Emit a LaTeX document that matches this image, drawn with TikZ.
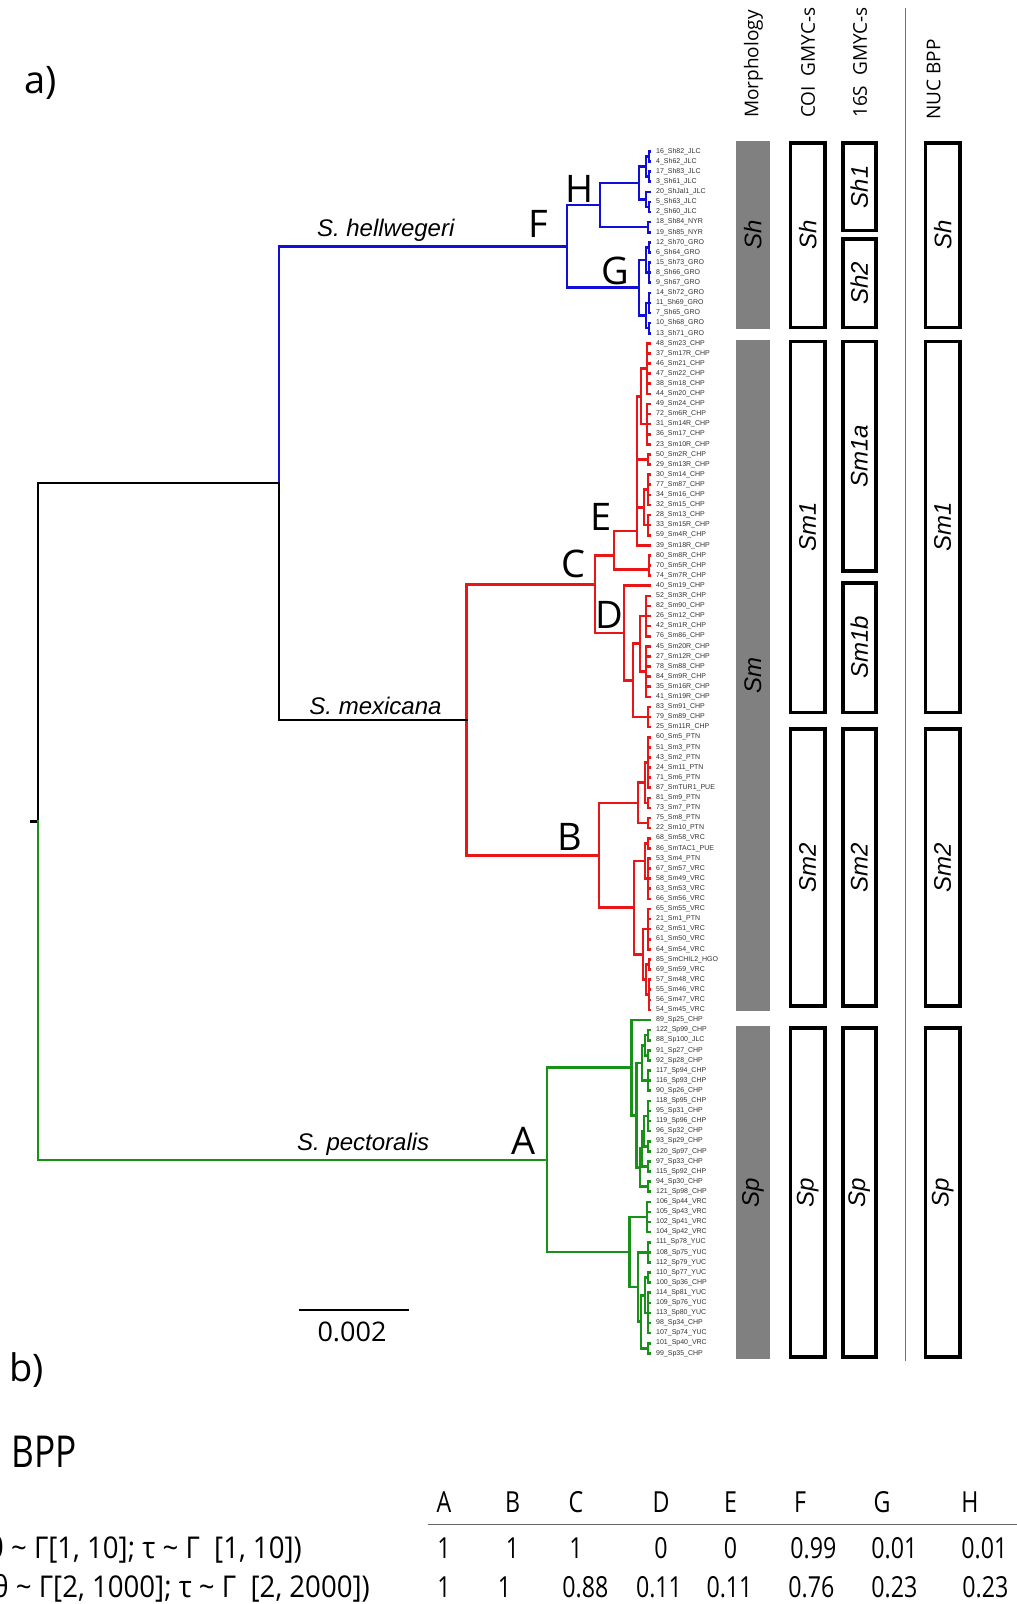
\documentclass[tikz,border=0pt]{standalone}
\usepackage{fontspec}
\setmainfont{Open Sans}
\newfontfamily\arialf{Liberation Sans}
\newfontfamily\condf[FakeStretch=0.8]{Open Sans}
\newfontfamily\condg[FakeStretch=0.92]{Open Sans}
\newcommand\fsz[1]{\fontsize{#1}{#1}\selectfont}
\definecolor{tblue}{RGB}{15,15,215}
\definecolor{tred}{RGB}{232,22,22}
\definecolor{tgreen}{RGB}{25,145,25}
\definecolor{morphgray}{RGB}{128,128,128}
\newcommand\brV[3]{\draw (#1,{ty(#2)}) -- (#1,{ty(#3)});}
\newcommand\brH[3]{\draw (#1,{ty(#3)}) -- (#2,{ty(#3)});}
\newcommand\brT[3]{\brV{#1}{#2}{#3}\foreach \k in {#2,...,#3}{\brH{#1}{650}{\k}}}
\tikzset{
  branch/.style={line width=2.6, line cap=rect},
  tiplab/.style={anchor=west, inner sep=0, font=\arialf\fsz{7}, text=black!80},
  cladelet/.style={inner sep=0, font=\fsz{38}},
  species/.style={inner sep=0, font=\arialf\itshape\fsz{24}},
  colhead/.style={rotate=90, anchor=west, inner sep=0, font=\fsz{19}},
  morphbox/.style={fill=morphgray, draw=none, rotate=90, inner sep=0, font=\arialf\itshape\fsz{24}},
  gbox/.style={draw=black, line width=3.6, fill=white, rotate=90, inner sep=0, font=\arialf\itshape\fsz{24}},
  tabc/.style={anchor=base, inner sep=0, font=\condf\fsz{29}},
}
\begin{document}
\begin{tikzpicture}[x=1pt,y=-1pt, declare function={ty(\i)=151.4+(\i-1)*10.1;}]
\useasboundingbox (0,0) rectangle (1017,1604);
\fill[white] (0,0) rectangle (1017,1604);

% ---------- tree ----------
\begin{scope}[branch, tblue]
\brT{649}{1}{2}\brT{649}{3}{4}\brV{646}{1.5}{3.5}\brH{646}{649}{1.5}\brH{646}{649}{3.5}
\brH{646}{650}{5}\brT{649}{6}{7}\brV{646}{5}{6.5}\brH{646}{649}{6.5}
\brV{639}{2.5}{5.75}\brH{639}{646}{2.5}\brH{639}{646}{5.75}
\brT{648}{8}{9}
\brV{600}{4.125}{8.5}\brH{600}{639}{4.125}\brH{600}{648}{8.5}
\brT{649}{10}{11}\brT{649}{12}{14}\brV{646}{10.5}{13}\brH{646}{649}{10.5}\brH{646}{649}{13}
\brT{649}{15}{17}\brT{649}{18}{19}\brV{646}{16}{18.5}\brH{646}{649}{16}\brH{646}{649}{18.5}
\brV{639}{11.75}{17.25}\brH{639}{646}{11.75}\brH{639}{646}{17.25}
\brV{567}{6.3125}{14.5}\brH{567}{600}{6.3125}\brH{567}{639}{14.5}
\brH{279}{567}{10.40625}
\brV{279}{10.40625}{33.92}
\end{scope}

\begin{scope}[branch, tred]
\brT{647}{20}{25}\brT{647}{26}{30}\brV{641}{22.5}{28}\brH{641}{647}{22.5}\brH{641}{647}{28}
\brT{648}{31}{32}
\brT{648}{33}{36}\brT{648}{37}{39}\brV{644}{34.5}{38}\brH{644}{648}{34.5}\brH{644}{648}{38}
\brV{637}{25.25}{40}\brH{637}{641}{25.25}\brH{637}{648}{31.5}\brH{637}{644}{36.25}\brH{637}{650}{40}
\brT{649}{41}{43}
\brV{614}{38.6}{42.4}\brH{614}{637}{38.6}\brH{614}{649}{42.4}
\brH{624}{650}{44}
\brT{646}{45}{49}\brT{646}{50}{55}\brV{640}{47}{52.5}\brH{640}{646}{47}\brH{640}{646}{52.5}
\brT{648}{56}{58}
\brV{633}{49.75}{57}\brH{633}{640}{49.75}\brH{633}{648}{57}
\brV{624}{44}{53.375}\brH{624}{633}{53.375}
\brV{595}{41}{48.6875}\brH{595}{614}{41}\brH{595}{624}{48.6875}
\brT{648}{59}{64}\brT{648}{65}{66}\brV{645}{61.5}{65.5}\brH{645}{648}{61.5}\brH{645}{648}{65.5}
\brT{648}{67}{68}
\brV{638}{63.5}{67.5}\brH{638}{645}{63.5}\brH{638}{648}{67.5}
\brT{648}{69}{70}\brT{648}{71}{75}\brV{645}{69.5}{73}\brH{645}{648}{69.5}\brH{645}{648}{73}
\brT{648}{76}{80}\brT{649}{81}{82}\brT{649}{83}{86}\brV{646}{81.5}{84.5}\brH{646}{649}{81.5}\brH{646}{649}{84.5}
\brV{643}{78}{83}\brH{643}{648}{78}\brH{643}{646}{83}
\brV{634}{71.25}{80.5}\brH{634}{645}{71.25}\brH{634}{643}{80.5}
\brV{599}{65.5}{75.875}\brH{599}{638}{65.5}\brH{599}{634}{75.875}
\brV{466.5}{43.9}{70.6875}\brH{466.5}{595}{43.9}\brH{466.5}{599}{70.6875}
\end{scope}

\begin{scope}[branch, black]
\brH{279}{466.5}{57.3}
\brV{279}{33.85}{57.3}
\brH{38}{279}{33.85}
\brV{38}{33.85}{67.35}
\brH{31.7}{38}{67.35}
\end{scope}

\begin{scope}[branch, tgreen]
\brH{631.7}{650}{87}
\brT{648}{88}{89}\brT{648}{90}{91}\brV{645}{88.5}{90.5}\brH{645}{648}{88.5}\brH{645}{648}{90.5}
\brT{648}{92}{94}\brV{642}{89.5}{93}\brH{642}{645}{89.5}\brH{642}{648}{93}
\brT{648}{95}{98}\brT{648}{99}{100}\brV{644}{96.5}{99.5}\brH{644}{648}{96.5}\brH{644}{648}{99.5}
\brT{648}{101}{102}\brV{642}{98}{101.5}\brH{642}{644}{98}\brH{642}{648}{101.5}
\brT{648}{103}{104}\brV{640}{99.75}{103.5}\brH{640}{642}{99.75}\brH{640}{648}{103.5}
\brV{636.7}{91.25}{101.625}\brH{636.7}{642}{91.25}\brH{636.7}{640}{101.625}
\brV{631.7}{87}{96.4375}\brH{631.7}{636.7}{96.4375}
\brT{647}{105}{108}\brT{648}{109}{111}
\brT{648}{112}{113}\brT{648}{114}{118}\brV{645}{112.5}{116}\brH{645}{648}{112.5}\brH{645}{648}{116}
\brT{648}{119}{120}\brV{641}{114.25}{119.5}\brH{641}{645}{114.25}\brH{641}{648}{119.5}
\brV{638}{110}{116.875}\brH{638}{648}{110}\brH{638}{641}{116.875}
\brV{629.3}{106.5}{113.44}\brH{629.3}{647}{106.5}\brH{629.3}{638}{113.44}
\brV{547}{91.72}{109.97}\brH{547}{631.7}{91.72}\brH{547}{629.3}{109.97}
\brH{38}{547}{100.84}
\brV{38}{67.35}{100.84}
\end{scope}

% ---------- tip labels ----------
\foreach \lab [count=\i] in {
16\_Sh82\_JLC,4\_Sh62\_JLC,17\_Sh83\_JLC,3\_Sh61\_JLC,20\_ShJal1\_JLC,5\_Sh63\_JLC,2\_Sh60\_JLC,
18\_Sh84\_NYR,19\_Sh85\_NYR,12\_Sh70\_GRO,6\_Sh64\_GRO,15\_Sh73\_GRO,8\_Sh66\_GRO,9\_Sh67\_GRO,
14\_Sh72\_GRO,11\_Sh69\_GRO,7\_Sh65\_GRO,10\_Sh68\_GRO,13\_Sh71\_GRO,
48\_Sm23\_CHP,37\_Sm17R\_CHP,46\_Sm21\_CHP,47\_Sm22\_CHP,38\_Sm18\_CHP,44\_Sm20\_CHP,49\_Sm24\_CHP,
72\_Sm6R\_CHP,31\_Sm14R\_CHP,36\_Sm17\_CHP,23\_Sm10R\_CHP,50\_Sm2R\_CHP,29\_Sm13R\_CHP,30\_Sm14\_CHP,
77\_Sm87\_CHP,34\_Sm16\_CHP,32\_Sm15\_CHP,28\_Sm13\_CHP,33\_Sm15R\_CHP,59\_Sm4R\_CHP,39\_Sm18R\_CHP,
80\_Sm8R\_CHP,70\_Sm5R\_CHP,74\_Sm7R\_CHP,40\_Sm19\_CHP,52\_Sm3R\_CHP,82\_Sm90\_CHP,26\_Sm12\_CHP,
42\_Sm1R\_CHP,76\_Sm86\_CHP,45\_Sm20R\_CHP,27\_Sm12R\_CHP,78\_Sm88\_CHP,84\_Sm9R\_CHP,35\_Sm16R\_CHP,
41\_Sm19R\_CHP,83\_Sm91\_CHP,79\_Sm89\_CHP,25\_Sm11R\_CHP,60\_Sm5\_PTN,51\_Sm3\_PTN,43\_Sm2\_PTN,
24\_Sm11\_PTN,71\_Sm6\_PTN,87\_SmTUR1\_PUE,81\_Sm9\_PTN,73\_Sm7\_PTN,75\_Sm8\_PTN,22\_Sm10\_PTN,
68\_Sm58\_VRC,86\_SmTAC1\_PUE,53\_Sm4\_PTN,67\_Sm57\_VRC,58\_Sm49\_VRC,63\_Sm53\_VRC,66\_Sm56\_VRC,
65\_Sm55\_VRC,21\_Sm1\_PTN,62\_Sm51\_VRC,61\_Sm50\_VRC,64\_Sm54\_VRC,85\_SmCHIL2\_HGO,69\_Sm59\_VRC,
57\_Sm48\_VRC,55\_Sm46\_VRC,56\_Sm47\_VRC,54\_Sm45\_VRC,
89\_Sp25\_CHP,122\_Sp99\_CHP,88\_Sp100\_JLC,91\_Sp27\_CHP,92\_Sp28\_CHP,117\_Sp94\_CHP,116\_Sp93\_CHP,
90\_Sp26\_CHP,118\_Sp95\_CHP,95\_Sp31\_CHP,119\_Sp96\_CHP,96\_Sp32\_CHP,93\_Sp29\_CHP,120\_Sp97\_CHP,
97\_Sp33\_CHP,115\_Sp92\_CHP,94\_Sp30\_CHP,121\_Sp98\_CHP,106\_Sp44\_VRC,105\_Sp43\_VRC,102\_Sp41\_VRC,
104\_Sp42\_VRC,111\_Sp78\_YUC,108\_Sp75\_YUC,112\_Sp79\_YUC,110\_Sp77\_YUC,100\_Sp36\_CHP,114\_Sp81\_YUC,
109\_Sp76\_YUC,113\_Sp80\_YUC,98\_Sp34\_CHP,107\_Sp74\_YUC,101\_Sp40\_VRC,99\_Sp35\_CHP}
  \node[tiplab] (tip\i) at (656,{ty(\i)}) {\lab};

% ---------- clade letters and species ----------
\node[cladelet] (lF) at (538.5,224) {F};
\node[cladelet] (lH) at (580,188.5) {H};
\node[cladelet] (lG) at (615.5,271) {G};
\node[cladelet] (lE) at (600.6,516.7) {E};
\node[cladelet] (lC) at (573,563.8) {C};
\node[cladelet] (lD) at (609.8,615) {D};
\node[cladelet] (lB) at (570,837) {B};
\node[cladelet] (lA) at (523.9,1140.9) {A};
\node[species] (spH) at (385.7,230.2) {S. hellwegeri};
\node[species] (spM) at (375.5,706) {S. mexicana};
\node[species] (spP) at (363.2,1144) {S. pectoralis};

\node[inner sep=0, font=\fsz{38}] (pa) at (40.4,82.8) {a)};
\node[inner sep=0, font=\fsz{38}] (pb) at (26.6,1370.5) {b)};

% scale bar
\coordinate (sbL) at (298.8,1309.7);
\coordinate (sbR) at (409.3,1309.7);
\draw[line width=2.2] (sbL) -- (sbR);
\node[inner sep=0, font=\fsz{27}] (sblab) at (352,1331.6) {0.002};

% ---------- columns ----------
\node[colhead] (hMorph) at (753.5,118) {Morphology};
\node[colhead] (hCOI) at (808,118) {COI~ GMYC-s};
\node[colhead] (h16S) at (860,118) {16S~ GMYC-s};
\node[colhead] (hNUC) at (933.5,120) {NUC BPP};
\coordinate (divT) at (905.4,8);
\coordinate (divB) at (905.4,1360.6);
\draw[line width=1.3, black!55] (divT) -- (divB);

% morphology
\node[morphbox, minimum width=188.2, minimum height=34.8] (mSh) at (752.9,235.3) {Sh};
\node[morphbox, minimum width=671.1, minimum height=34.8] (mSm) at (752.9,675.2) {Sm};
\node[morphbox, minimum width=332.6, minimum height=34.8] (mSp) at (752.9,1192.5) {Sp};
% COI
\node[gbox, minimum width=184.6, minimum height=34.3] (cSh) at (807.7,235.3) {Sh};
\node[gbox, minimum width=371, minimum height=34.3] (cSm1) at (807.7,526.9) {Sm1};
\node[gbox, minimum width=276.7, minimum height=34.3] (cSm2) at (807.7,867.6) {Sm2};
\node[gbox, minimum width=329, minimum height=34.3] (cSp) at (807.7,1192.5) {Sp};
% 16S
\node[gbox, minimum width=87.4, minimum height=33.2] (sSh1) at (859.3,186.7) {Sh1};
\node[gbox, minimum width=88.5, minimum height=33.2] (sSh2) at (859.3,283.4) {Sh2};
\node[gbox, minimum width=229.7, minimum height=33.2] (sSm1a) at (859.3,456.3) {Sm1a};
\node[gbox, minimum width=129.6, minimum height=33.2] (sSm1b) at (859.3,647.6) {Sm1b};
\node[gbox, minimum width=276.7, minimum height=33.2] (sSm2) at (859.3,867.6) {Sm2};
\node[gbox, minimum width=329, minimum height=33.2] (sSp) at (859.3,1192.5) {Sp};
% NUC BPP
\node[gbox, minimum width=184.6, minimum height=34.2] (nSh) at (942.7,235.3) {Sh};
\node[gbox, minimum width=371, minimum height=34.2] (nSm1) at (942.7,526.9) {Sm1};
\node[gbox, minimum width=276.7, minimum height=34.2] (nSm2) at (942.7,867.6) {Sm2};
\node[gbox, minimum width=329, minimum height=34.2] (nSp) at (942.7,1192.5) {Sp};

% ---------- part b table ----------
\node[inner sep=0, font=\condf\fsz{44}] (bpp) at (44.5,1451.4) {BPP};
\node[tabc] (hA) at (444,1512.5) {A};
\node[tabc] (hB) at (512.6,1512.5) {B};
\node[tabc] (hC) at (576,1512.5) {C};
\node[tabc] (hD) at (661,1512.5) {D};
\node[tabc] (hE) at (730.6,1512.5) {E};
\node[tabc] (hF) at (800,1512.5) {F};
\node[tabc] (hG) at (882,1512.5) {G};
\node[tabc] (hH) at (970,1512.5) {H};
\coordinate (ruleL) at (427.5,1524.6);
\coordinate (ruleR) at (1017,1524.6);
\draw[line width=1.6, black!60] (ruleL) -- (ruleR);
\node[inner sep=0, anchor=base east, font=\condg\fsz{30}] (r1lab) at (302,1558.5) {θ \textasciitilde\ Γ[1, 10]; τ \textasciitilde\ Γ\ \ [1, 10])};
\node[inner sep=0, anchor=base east, font=\condg\fsz{30}] (r2lab) at (370,1597.5) {θ \textasciitilde\ Γ[2, 1000]; τ \textasciitilde\ Γ\ \ [2, 2000])};
\node[tabc] (r1a) at (444,1558.5) {1};
\node[tabc] (r1b) at (512.6,1558.5) {1};
\node[tabc] (r1c) at (576,1558.5) {1};
\node[tabc] (r1d) at (661,1558.5) {0};
\node[tabc] (r1e) at (730.6,1558.5) {0};
\node[tabc] (r1f) at (813.4,1558.5) {0.99};
\node[tabc] (r1g) at (894.3,1558.5) {0.01};
\node[tabc] (r1h) at (984.3,1558.5) {0.01};
\node[tabc] (r2a) at (444,1597.5) {1};
\node[tabc] (r2b) at (504.4,1597.5) {1};
\node[tabc] (r2c) at (585.3,1597.5) {0.88};
\node[tabc] (r2d) at (659,1597.5) {0.11};
\node[tabc] (r2e) at (729.5,1597.5) {0.11};
\node[tabc] (r2f) at (811.4,1597.5) {0.76};
\node[tabc] (r2g) at (894.3,1597.5) {0.23};
\node[tabc] (r2h) at (985.4,1597.5) {0.23};
\end{tikzpicture}
\end{document}
